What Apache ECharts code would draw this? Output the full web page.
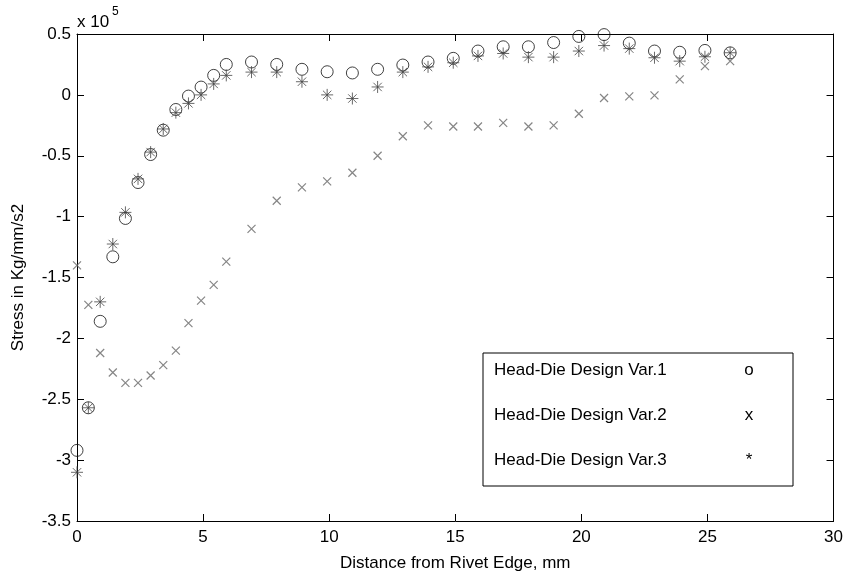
<!DOCTYPE html>
<html>
<head>
<meta charset="utf-8">
<script src="https://cdn.jsdelivr.net/npm/echarts@6/dist/echarts.min.js"></script>
<style>
  html, body { margin: 0; padding: 0; background: #fff; }
  #chart { width: 846px; height: 578px; }
</style>
</head>
<body>
<div id="chart"></div>
<script>
// distance from rivet edge, mm
var distance = [0, 0.45, 0.92, 1.42, 1.92, 2.42, 2.92, 3.42, 3.92, 4.42, 4.92, 5.42, 5.92,
  6.92, 7.92, 8.92, 9.92, 10.92, 11.92, 12.92, 13.92, 14.92, 15.9, 16.9, 17.9, 18.9,
  19.9, 20.9, 21.9, 22.9, 23.9, 24.9, 25.9];
// stress, in units of 1e5 Kg/mm/s2
var var1 = [-2.92, -2.57, -1.86, -1.33, -1.015, -0.72, -0.49, -0.29, -0.12, -0.01, 0.064, 0.16, 0.25,
  0.27, 0.25, 0.21, 0.19, 0.18, 0.21, 0.245, 0.27, 0.30, 0.36, 0.395, 0.395, 0.43,
  0.48, 0.495, 0.425, 0.36, 0.35, 0.365, 0.345];
var var2 = [-1.40, -1.725, -2.12, -2.28, -2.365, -2.365, -2.305, -2.22, -2.10, -1.875, -1.69, -1.56, -1.37,
  -1.10, -0.87, -0.76, -0.71, -0.64, -0.50, -0.34, -0.25, -0.26, -0.26, -0.23, -0.26, -0.25,
  -0.155, -0.026, -0.012, -0.004, 0.127, 0.236, 0.277];
var var3 = [-3.10, -2.57, -1.70, -1.225, -0.965, -0.69, -0.47, -0.28, -0.146, -0.07, 0.0, 0.09, 0.16,
  0.187, 0.187, 0.108, 0.0, -0.03, 0.065, 0.187, 0.23, 0.264, 0.32, 0.34, 0.31, 0.31,
  0.36, 0.405, 0.38, 0.305, 0.277, 0.313, 0.346];
var legendNames = ['Head-Die Design Var.1', 'Head-Die Design Var.2', 'Head-Die Design Var.3'];
var legendMarks = ['o', 'x', '*'];

function pairs(ys) {
  return ys.map(function (y, i) { return [distance[i], y]; });
}

var font = 'Liberation Sans, Arial, sans-serif';
var chart = echarts.init(document.getElementById('chart'));

var boxAxis = {
  axisLine: { show: true, onZero: false, lineStyle: { color: '#000', width: 1 } },
  axisTick: { show: true, inside: true, length: 7, lineStyle: { color: '#000' } },
  splitLine: { show: false }
};

var option = {
  animation: false,
  grid: { left: 77, right: 12, top: 34, bottom: 57 },
  xAxis: [
    Object.assign({
      type: 'value', min: 0, max: 30, interval: 5,
      name: 'Distance from Rivet Edge, mm', nameLocation: 'middle', nameGap: 34,
      nameTextStyle: { fontFamily: font, fontSize: 17, color: '#000' },
      axisLabel: { fontFamily: font, fontSize: 17, color: '#000', margin: 8 }
    }, boxAxis),
    Object.assign({
      type: 'value', min: 0, max: 30, interval: 5, position: 'top',
      axisLabel: { show: false }
    }, boxAxis)
  ],
  yAxis: [
    Object.assign({
      type: 'value', min: -3.5, max: 0.5, interval: 0.5,
      name: 'Stress in Kg/mm/s2', nameLocation: 'middle', nameGap: 50,
      nameTextStyle: { fontFamily: font, fontSize: 17, color: '#000' },
      axisLabel: { fontFamily: font, fontSize: 17, color: '#000', margin: 6 }
    }, boxAxis),
    Object.assign({
      type: 'value', min: -3.5, max: 0.5, interval: 0.5, position: 'right',
      axisLabel: { show: false }
    }, boxAxis)
  ],
  series: [
    {
      name: legendNames[0], type: 'scatter', data: pairs(var1),
      symbol: 'circle', symbolSize: 12,
      itemStyle: { color: 'rgba(0,0,0,0)', borderColor: '#111', borderWidth: 1 }
    },
    {
      name: legendNames[1], type: 'scatter', data: pairs(var2),
      symbol: 'path://M0,0L10,10M10,0L0,10', symbolSize: 8,
      itemStyle: { color: 'rgba(0,0,0,0)', borderColor: '#666', borderWidth: 1.2 }
    },
    {
      name: legendNames[2], type: 'scatter', data: pairs(var3),
      symbol: 'path://M5,0L5,10M0,5L10,5M1.5,1.5L8.5,8.5M8.5,1.5L1.5,8.5', symbolSize: 12,
      itemStyle: { color: 'rgba(0,0,0,0)', borderColor: '#444', borderWidth: 1 }
    }
  ],
  graphic: [
    { type: 'text', left: 77, top: 14, style: { text: 'x 10', font: '17px ' + font, fill: '#000' } },
    { type: 'text', left: 112, top: 6, style: { text: '5', font: '12px ' + font, fill: '#000' } },
    {
      type: 'rect', shape: { x: 483, y: 353, width: 310, height: 133 },
      style: { fill: '#fff', stroke: '#000', lineWidth: 1 }, z: 100
    }
  ].concat(legendNames.map(function (n, i) {
    return {
      type: 'text', x: 494, y: 370 + i * 45, z: 101,
      style: { text: n, font: '17px ' + font, fill: '#000', verticalAlign: 'middle' }
    };
  })).concat(legendMarks.map(function (m, i) {
    return {
      type: 'text', x: 749, y: 370 + i * 45, z: 101,
      style: { text: m, font: '17px ' + font, fill: '#000', align: 'center', verticalAlign: 'middle' }
    };
  }))
};

chart.setOption(option);
</script>
</body>
</html>
